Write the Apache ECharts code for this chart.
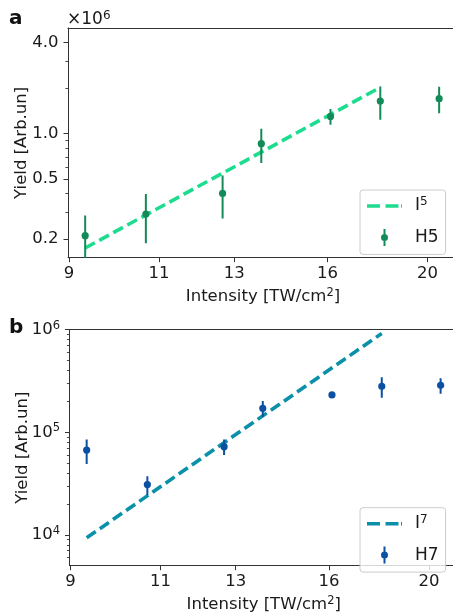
<!DOCTYPE html>
<html><head><meta charset="utf-8">
<script src="https://cdn.jsdelivr.net/npm/echarts@6/dist/echarts.min.js"></script>
<style>html,body{margin:0;padding:0;background:#fff}#c{width:453px;height:615px}</style>
</head><body><div id="c"></div>
<script>
// ---- data ----
const intensity = [9.33, 10.68, 12.67, 13.81, 16.11, 18.0, 20.52];
const h5Yield = [0.21, 0.292, 0.40, 0.855, 1.296, 1.64, 1.70];      // x10^6
const h5Err   = [0.076, 0.105, 0.127, 0.218, 0.155, 0.41, 0.34];
const fit5X = [9.33, 18.0];
const fit5Y = [0.174, 2.02];
const h7Yield = [67000, 30900, 72400, 171000, 231000, 280500, 287000];
const h7Err   = [18000, 6400, 12500, 30500, 8000, 63000, 50000];
const fit7X = [9.33, 18.0];
const fit7Y = [9350, 920000];
const xTicks = [9, 11, 13, 16, 20];
const yTicksA = [0.2, 0.5, 1.0, 4.0];
const yMinorA = [0.3, 0.4, 0.6, 0.7, 0.8, 0.9, 2, 3];
const yTicksB = [1e4, 1e5, 1e6];
const yMinorB = [6e3, 7e3, 8e3, 9e3, 2e4, 3e4, 4e4, 5e4, 6e4, 7e4, 8e4, 9e4, 2e5, 3e5, 4e5, 5e5, 6e5, 7e5, 8e5, 9e5];

const L = Math.log10;
const FONT = 'DejaVu Sans';
const TXT = '#1a1a1a';
const AX = '#333';
const C5 = '#138b58', F5 = '#1ddc8f', C7 = '#0c50a2', F7 = '#0a90a8';

const sup = { fontSize: 11.5, lineHeight: 6, verticalAlign: 'top', fontFamily: FONT, color: TXT };

const rangeA = { x: [8.98, 21.40], y: [0.15, 5.0] };
const rangeB = { x: [8.98, 21.33], y: [5000, 1e6] };

function xAxes(grid, r) {
  return [{
    type: 'value', gridIndex: grid, min: L(r.x[0]), max: L(r.x[1]), position: 'bottom',
    axisLine: { show: true, onZero: false, lineStyle: { color: AX, width: 1 } },
    axisTick: { show: true, length: 4.5, customValues: xTicks.map(L), lineStyle: { color: AX, width: 1 } },
    axisLabel: { customValues: xTicks.map(L), formatter: v => String(Math.round(Math.pow(10, v))),
      margin: 6.5, fontSize: 16.5, lineHeight: 20, fontFamily: FONT, color: TXT },
    splitLine: { show: false },
    name: 'Intensity [TW/cm{s|2}]', nameLocation: 'middle', nameGap: 29, nameMoveOverlap: false,
    nameTextStyle: { fontSize: 16.5, lineHeight: 20, fontFamily: FONT, color: TXT, rich: { s: sup } }
  }, {
    type: 'value', gridIndex: grid, min: L(r.x[0]), max: L(r.x[1]), position: 'top',
    axisLine: { show: true, onZero: false, lineStyle: { color: AX, width: 1 } },
    axisTick: { show: false }, axisLabel: { show: false }, splitLine: { show: false }
  }];
}

function yMain(grid, r, ticks, fmt) {
  return {
    type: 'value', gridIndex: grid, min: L(r.y[0]), max: L(r.y[1]), position: 'left',
    axisLine: { show: true, onZero: false, lineStyle: { color: AX, width: 1 } },
    axisTick: { show: true, length: 4.5, customValues: ticks.map(L), lineStyle: { color: AX, width: 1 } },
    axisLabel: { customValues: ticks.map(L), formatter: fmt, margin: 9.5, fontSize: 16.5, lineHeight: 20,
      fontFamily: FONT, color: TXT, rich: { s: sup } },
    splitLine: { show: false },
    name: 'Yield [Arb.un]', nameLocation: 'middle', nameGap: 38, nameRotate: 90, nameMoveOverlap: false,
    nameTextStyle: { fontSize: 16.5, fontFamily: FONT, color: TXT }
  };
}
// overlay axes (own grid with the same rectangle) carrying the minor ticks
function xHidden(grid, r) {
  return { type: 'value', gridIndex: grid, min: L(r.x[0]), max: L(r.x[1]), show: false };
}
function yMinor(grid, r, minors) {
  return {
    type: 'value', gridIndex: grid, min: L(r.y[0]), max: L(r.y[1]), position: 'left',
    axisLine: { show: false, onZero: false },
    axisTick: { show: true, length: 2.6, customValues: minors.map(L), lineStyle: { color: AX, width: 0.9 } },
    axisLabel: { show: false }, splitLine: { show: false }
  };
}

function errSeries(name, xi, yi, ys, es, color) {
  return {
    type: 'custom', name: name, xAxisIndex: xi, yAxisIndex: yi, clip: true, z: 5,
    itemStyle: { color: color },
    encode: { x: 0, y: 1 },
    data: intensity.map((x, i) => [L(x), L(ys[i]), L(Math.max(ys[i] - es[i], 1e-12)), L(ys[i] + es[i])]),
    renderItem: (params, api) => {
      const p = api.coord([api.value(0), api.value(1)]);
      const lo = api.coord([api.value(0), api.value(2)]);
      const hi = api.coord([api.value(0), api.value(3)]);
      return { type: 'group', children: [
        { type: 'line', shape: { x1: p[0], y1: lo[1], x2: p[0], y2: hi[1] }, style: { stroke: color, lineWidth: 2 } },
        { type: 'circle', shape: { cx: p[0], cy: p[1], r: 3.6 }, style: { fill: color } }
      ] };
    }
  };
}

function fitSeries(name, xi, yi, xs, ys, color) {
  return {
    type: 'line', name: name, xAxisIndex: xi, yAxisIndex: yi, symbol: 'none', z: 3,
    lineStyle: { color: color, width: 3.6, type: [11, 5] }, itemStyle: { color: color },
    data: xs.map((x, i) => [L(x), L(ys[i])])
  };
}

const errIcon = 'path://M2.5,0h2v17h-2z M0,8.5a3.5,3.5 0 1,1 7,0a3.5,3.5 0 1,1 -7,0z';
const dashIcon = 'path://M0,0h13v3.6h-13z M18.5,0h13v3.6h-13z M34,0h1v3.6h-1z';
function legend(top, fitName, errName, supTxt, fitColor, errColor) {
  return {
    orient: 'vertical', left: 360, top: top, itemWidth: 35, itemHeight: 17, itemGap: 11.4,
    padding: [6, 7, 7, 7], backgroundColor: 'rgba(255,255,255,0.8)', borderColor: '#cccccc', borderWidth: 1, borderRadius: 3,
    data: [
      { name: fitName, icon: dashIcon, itemStyle: { color: fitColor, borderWidth: 0 } },
      { name: errName, icon: errIcon, itemStyle: { color: errColor, borderWidth: 0 } }
    ],
    formatter: n => n === fitName ? '{g|}I{s|' + supTxt + '}' : '{g|}' + n,
    textStyle: { fontSize: 17, lineHeight: 20, fontFamily: FONT, color: TXT,
      rich: { g: { width: 8 }, s: { fontSize: 12, lineHeight: 6, verticalAlign: 'top', fontFamily: FONT, color: TXT } } }
  };
}

const gridA = { left: 68, top: 28, right: -5, height: 229.7, containLabel: false, outerBoundsMode: 'none' };
const gridB = { left: 69.5, top: 329.7, right: -5, height: 236, containLabel: false, outerBoundsMode: 'none' };

const option = {
  animation: false,
  backgroundColor: '#fff',
  grid: [gridA, gridB, Object.assign({}, gridA), Object.assign({}, gridB)],
  xAxis: [...xAxes(0, rangeA), ...xAxes(1, rangeB), xHidden(2, rangeA), xHidden(3, rangeB)],
  yAxis: [
    yMain(0, rangeA, yTicksA, v => Math.pow(10, v).toFixed(1)),
    yMain(1, rangeB, yTicksB, v => '10{s|' + Math.round(v) + '}'),
    yMinor(2, rangeA, yMinorA),
    yMinor(3, rangeB, yMinorB)
  ],
  legend: [legend(190, 'I5', 'H5', '5', F5, C5), legend(507.7, 'I7', 'H7', '7', F7, C7)],
  series: [
    fitSeries('I5', 0, 0, fit5X, fit5Y, F5),
    errSeries('H5', 0, 0, h5Yield, h5Err, C5),
    fitSeries('I7', 2, 1, fit7X, fit7Y, F7),
    errSeries('H7', 2, 1, h7Yield, h7Err, C7)
  ],
  graphic: [
    { type: 'text', left: 9, top: 9, style: { text: 'a', fontSize: 20, fontWeight: 'bold', fontFamily: FONT, fill: '#111' } },
    { type: 'text', left: 9, top: 318, style: { text: 'b', fontSize: 20, fontWeight: 'bold', fontFamily: FONT, fill: '#111' } },
    { type: 'text', left: 67, top: 10, style: { text: '×10{s|6}', fontSize: 17, lineHeight: 20, fontFamily: FONT, fill: TXT,
      rich: { s: { fontSize: 12, lineHeight: 6, verticalAlign: 'top', fontFamily: FONT, fill: TXT } } } }
  ]
};
const chart = echarts.init(document.getElementById('c'), null, { renderer: 'canvas' });
chart.setOption(option);
</script></body></html>
